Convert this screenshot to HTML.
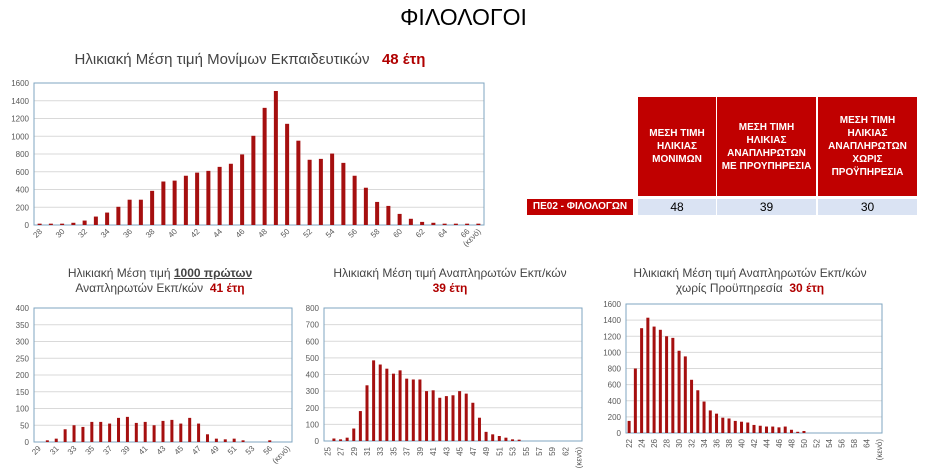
<!DOCTYPE html>
<html><head><meta charset="utf-8">
<style>
body{margin:0;width:927px;height:472px;background:#fff;position:relative;overflow:hidden;font-family:"Liberation Sans","DejaVu Sans",sans-serif;}
.t{position:absolute;text-align:center;color:#444;}
.r{color:#b00000;font-weight:bold}
</style></head><body>
<div class="t" style="left:0;width:927px;top:4px;font-size:23px;color:#000">ΦΙΛΟΛΟΓΟΙ</div>
<div class="t" style="left:30px;width:440px;top:51px;font-size:15px">Ηλικιακή Μέση τιμή Μονίμων Εκπαιδευτικών &nbsp;&nbsp;<span class="r" style="font-size:15px">48 έτη</span></div>
<div class="t" style="left:20px;width:280px;top:266px;font-size:12px;line-height:15px">Ηλικιακή Μέση τιμή <b style="text-decoration:underline">1000 πρώτων</b><br>Αναπληρωτών Εκπ/κών &nbsp;<span class="r">41 έτη</span></div>
<div class="t" style="left:310px;width:280px;top:266px;font-size:12px;line-height:15px">Ηλικιακή Μέση τιμή Αναπληρωτών Εκπ/κών<br><span class="r">39 έτη</span></div>
<div class="t" style="left:600px;width:300px;top:266px;font-size:12px;line-height:15px">Ηλικιακή Μέση τιμή Αναπληρωτών Εκπ/κών<br>χωρίς Προϋπηρεσία &nbsp;<span class="r">30 έτη</span></div>
<div style="position:absolute;left:638px;top:97px;width:78px;height:99px;background:#c00000"></div>
<div style="position:absolute;left:717px;top:97px;width:99px;height:99px;background:#c00000"></div>
<div style="position:absolute;left:818px;top:97px;width:99px;height:99px;background:#c00000"></div>
<div class="t" style="left:638px;width:78px;top:127px;font-size:10px;font-weight:bold;color:#fff;line-height:13px">ΜΕΣΗ ΤΙΜΗ<br>ΗΛΙΚΙΑΣ<br>ΜΟΝΙΜΩΝ</div>
<div class="t" style="left:717px;width:99px;top:121px;font-size:10px;font-weight:bold;color:#fff;line-height:13px">ΜΕΣΗ ΤΙΜΗ<br>ΗΛΙΚΙΑΣ<br>ΑΝΑΠΛΗΡΩΤΩΝ<br>ΜΕ ΠΡΟΥΠΗΡΕΣΙΑ</div>
<div class="t" style="left:818px;width:99px;top:114px;font-size:10px;font-weight:bold;color:#fff;line-height:13px">ΜΕΣΗ ΤΙΜΗ<br>ΗΛΙΚΙΑΣ<br>ΑΝΑΠΛΗΡΩΤΩΝ<br>ΧΩΡΙΣ<br>ΠΡΟΫΠΗΡΕΣΙΑ</div>
<div class="t" style="left:527px;width:106px;top:199px;height:16px;background:#c00000;color:#fff;font-size:10px;font-weight:bold;line-height:16px">ΠΕ02 - ΦΙΛΟΛΟΓΩΝ</div>
<div class="t" style="left:638px;width:78px;top:199px;height:16px;background:#dae3f3;color:#000;font-size:12px;line-height:16px">48</div>
<div class="t" style="left:717px;width:99px;top:199px;height:16px;background:#dae3f3;color:#000;font-size:12px;line-height:16px">39</div>
<div class="t" style="left:818px;width:99px;top:199px;height:16px;background:#dae3f3;color:#000;font-size:12px;line-height:16px">30</div>
<svg id="s" width="927" height="472" style="position:absolute;left:0;top:0"></svg>
<script>
var svg=document.getElementById('s'),out='';
function chart(o){
 var n=o.v.length,w=(o.x2-o.x1)/n,h=o.y2-o.y1;
 for(var i=0;i<=o.steps;i++){var y=o.y2-h*i/o.steps;
  out+='<line x1="'+o.x1+'" x2="'+o.x2+'" y1="'+y+'" y2="'+y+'" stroke="#d9d9d9" stroke-width="1"/>';
  out+='<text x="'+(o.x1-5)+'" y="'+(y+3)+'" font-size="8" fill="#595959" text-anchor="end">'+(o.max*i/o.steps)+'</text>';}
 out+='<rect x="'+o.x1+'" y="'+o.y1+'" width="'+(o.x2-o.x1)+'" height="'+h+'" fill="none" stroke="#7fa6c0" stroke-width="1"/>';
 for(var i=0;i<n;i++){var bh=h*o.v[i]/o.max,cx=o.x1+w*(i+0.5);
  if(bh>0)out+='<rect x="'+(cx-o.bw/2)+'" y="'+(o.y2-bh)+'" width="'+o.bw+'" height="'+bh+'" fill="#a50f0f"/>';
  if(o.l[i]){var ty=o.y2+6;
   if(o.rot==-90)out+='<text transform="translate('+(cx+3)+','+ty+') rotate(-90)" font-size="8" fill="#595959" text-anchor="end">'+o.l[i]+'</text>';
   else out+='<text transform="translate('+(cx+3)+','+(ty+1)+') rotate(-45)" font-size="8" fill="#595959" text-anchor="end">'+o.l[i]+'</text>';}}
}
function labs(n,f){var a=[];for(var i=0;i<n;i++)a.push(f(i));return a;}
chart({x1:34,x2:484,y1:83,y2:225,max:1600,steps:8,bw:4,
 v:[15,15,15,25,50,95,140,205,285,285,385,490,500,555,590,610,655,690,795,1005,1320,1510,1140,950,735,745,805,700,555,420,260,215,125,70,35,25,15,15,15,15],
 l:labs(40,function(i){return i==39?'(κενό)':(i%2==0?28+i:'')})});
chart({x1:34,x2:292,y1:308,y2:442,max:400,steps:8,bw:3,
 v:[0,5,10,38,50,45,60,60,55,72,75,57,60,50,63,66,55,72,55,23,10,8,10,5,0,0,5,0,0],
 l:labs(29,function(i){if(i==28)return '(κενό)';if(i==26)return 56;if(i%2==0&&i<=24)return 29+i;return '';})});
chart({x1:324,x2:582,y1:308,y2:441,max:800,steps:8,bw:3,rot:-90,
 v:[0,15,10,20,75,180,335,485,460,435,405,425,375,370,370,300,305,260,270,275,300,285,230,140,55,40,30,20,10,8,0,0,0,0,0,0,0,0,0],
 l:labs(39,function(i){if(i==38)return '(κενό)';if(i==36)return 62;if(i%2==0&&i<=34)return 25+i;return '';})});
chart({x1:626,x2:882,y1:304,y2:433,max:1600,steps:8,bw:3,rot:-90,
 v:[150,800,1300,1430,1320,1280,1200,1180,1020,950,660,530,390,280,240,190,180,150,140,130,100,90,80,80,70,80,40,15,25,0,0,0,0,0,0,0,0,0,0,0,0],
 l:labs(41,function(i){if(i==40)return '(κενό)';if(i==38)return 64;if(i%2==0&&i<=36)return 22+i;return '';})});
svg.innerHTML=out;
</script>
</body></html>
